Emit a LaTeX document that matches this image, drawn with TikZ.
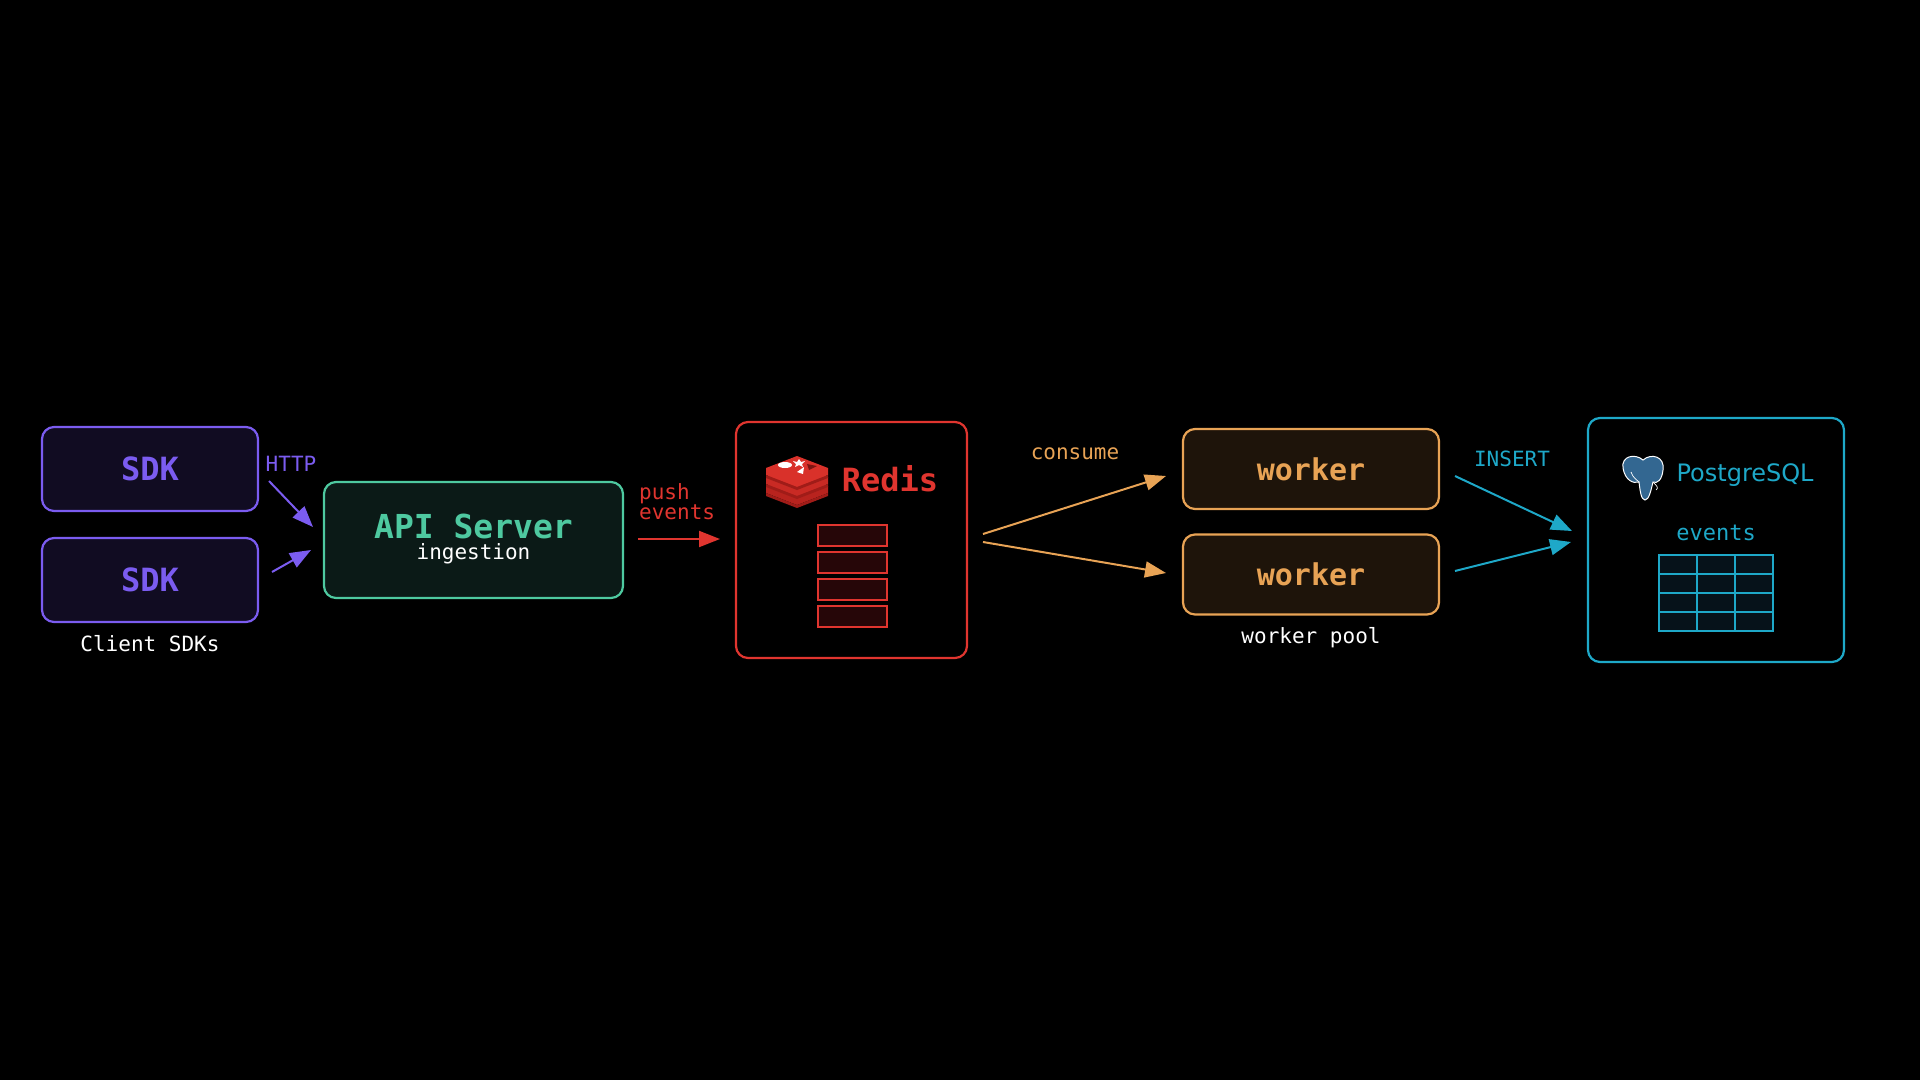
\documentclass[tikz,border=0pt]{standalone}
\usepackage{fontspec}
\setmainfont{DejaVu Sans Mono}
\newfontfamily\pgfont{DejaVu Sans}
\usetikzlibrary{arrows.meta}
\definecolor{sdk}{HTML}{7B5CF0}
\definecolor{sdkf}{HTML}{110C22}
\definecolor{api}{HTML}{4EC9A0}
\definecolor{apif}{HTML}{0B1A17}
\definecolor{red}{HTML}{E0352F}
\definecolor{redf}{HTML}{260608}
\definecolor{rA}{HTML}{B8231E}
\definecolor{rB}{HTML}{C92A24}
\definecolor{rC}{HTML}{D9312A}
\definecolor{rD}{HTML}{A01C18}
\definecolor{rE}{HTML}{7A1512}
\definecolor{wk}{HTML}{E8A355}
\definecolor{wkf}{HTML}{1E140A}
\definecolor{pg}{HTML}{1EA8C8}
\definecolor{pgf}{HTML}{06121A}
\definecolor{ele}{HTML}{336791}
\tikzset{
 box/.style={draw, line width=2.2pt, rounded corners=12pt},
 arr/.style={line width=2pt, -{Triangle[length=21pt,width=16pt]}},
 lbl/.style={font=\fontsize{21}{24}\selectfont},
}
\begin{document}
\begin{tikzpicture}[x=1pt,y=-1pt]
\fill[black] (0,0) rectangle (1920,1080);
% SDKs
\node[box, draw=sdk, fill=sdkf, minimum width=216pt, minimum height=84pt, text=sdk, font=\fontsize{32}{36}\selectfont\bfseries] (sdk1) at (150,469) {SDK};
\node[box, draw=sdk, fill=sdkf, minimum width=216pt, minimum height=84pt, text=sdk, font=\fontsize{32}{36}\selectfont\bfseries] (sdk2) at (150,580) {SDK};
\node[lbl, text=white] (csdk) at (150,644) {Client SDKs};
\node[lbl, text=sdk] (http) at (291,464) {HTTP};
% API
\node[box, draw=api, fill=apif, minimum width=299pt, minimum height=116pt] (api) at (473.5,540) {};
\node[text=api, font=\fontsize{33}{36}\selectfont\bfseries] (apit) at (473.5,526) {API Server};
\node[text=white, font=\fontsize{21}{24}\selectfont] (apis) at (473.5,554) {ingestion};
\coordinate (h1s) at (269,481); \coordinate (h1e) at (313,527);
\coordinate (h2s) at (272,572); \coordinate (h2e) at (311,550);
\draw[arr, sdk] (h1s) -- (h1e);
\draw[arr, sdk] (h2s) -- (h2e);
% push
\node[lbl, text=red, align=left, anchor=west, inner sep=0pt] (push) at (639,502) {push\\[-4pt]events};
\coordinate (p1) at (638,539); \coordinate (p2) at (720,539);
\draw[arr, red] (p1) -- (p2);
% Redis
\node[box, draw=red, minimum width=231pt, minimum height=236pt] (redis) at (851.5,540) {};
\node[text=red, font=\fontsize{32}{36}\selectfont\bfseries] (redist) at (890,479) {Redis};
\begin{scope}[shift={(797,478)}]
 \foreach \dy/\c in {18/rA,9/rB,0/rC}{
  \fill[\c] (-31,-10+\dy) -- (0,-22+\dy) -- (31,-10+\dy) -- (31,-3+\dy) -- (0,9+\dy) -- (-31,-3+\dy) -- cycle;
  \fill[rD] (-31,-3+\dy) -- (0,9+\dy) -- (31,-3+\dy) -- (31,0+\dy) -- (0,12+\dy) -- (-31,0+\dy) -- cycle;
 }
 \fill[white] (-12,-13) ellipse (7pt and 3pt);
 \fill[white] (2,-19) -- (4,-16) -- (8,-17) -- (5,-14) -- (6,-11) -- (2,-13) -- (-2,-11) -- (-1,-14) -- (-4,-17) -- (0,-16) -- cycle;
 \fill[white] (0,-6) -- (7,-11) -- (6,-4) -- cycle;
 \fill[rE] (10,-14) -- (20,-12) -- (12,-8) -- cycle;
\end{scope}
\foreach \y [count=\i] in {535.5,562.5,589.5,616.5}{
 \node[draw=red, fill=redf, line width=1.2pt, minimum width=69pt, minimum height=21pt, inner sep=0pt] (q\i) at (852.5,\y) {};
}
% consume
\node[lbl, text=wk] (cons) at (1075,454) {consume};
\node[box, draw=wk, fill=wkf, minimum width=256pt, minimum height=80pt, text=wk, font=\fontsize{30}{34}\selectfont\bfseries] (w1) at (1311,469) {worker};
\node[box, draw=wk, fill=wkf, minimum width=256pt, minimum height=80pt, text=wk, font=\fontsize{30}{34}\selectfont\bfseries] (w2) at (1311,574.5) {worker};
\node[lbl, text=white] (wpool) at (1311,638) {worker pool};
\coordinate (c1s) at (983,534); \coordinate (c1e) at (1166,476);
\coordinate (c2s) at (983,542); \coordinate (c2e) at (1166,573);
\draw[arr, wk] (c1s) -- (c1e);
\draw[arr, wk] (c2s) -- (c2e);
% insert
\node[lbl, text=pg] (ins) at (1512,459) {INSERT};
\coordinate (i1s) at (1455,476); \coordinate (i1e) at (1572,531);
\coordinate (i2s) at (1455,571); \coordinate (i2e) at (1571,542);
\draw[arr, pg] (i1s) -- (i1e);
\draw[arr, pg] (i2s) -- (i2e);
% Postgres
\node[box, draw=pg, minimum width=256pt, minimum height=244pt] (pgb) at (1716,540) {};
\node[text=pg, font=\pgfont\fontsize{24}{28}\selectfont, anchor=west] (pgt) at (1673,475) {PostgreSQL};
\begin{scope}[shift={(1643,478)}]
 \draw[white, line width=1pt, fill=ele] (-20,-10) .. controls (-22,-22) and (-8,-25) .. (0,-18) .. controls (8,-25) and (22,-22) .. (20,-8) .. controls (19,2) and (14,6) .. (10,4) .. controls (8,12) and (6,22) .. (2,22) .. controls (-2,22) and (-3,12) .. (-4,4) .. controls (-10,6) and (-18,2) .. (-20,-10) -- cycle;
 \draw[white, line width=0.7pt] (-12,-6) .. controls (-10,0) and (-6,2) .. (-4,4);
 \draw[white, line width=0.7pt] (10,4) .. controls (14,8) and (16,10) .. (13,12);
\end{scope}
\node[text=pg, font=\fontsize{22}{26}\selectfont] (evt) at (1716,533) {events};
\fill[pgf] (1659,555) rectangle (1773,631);
\foreach \x in {1697,1735} \draw[pg, line width=1.2pt] (\x,555) -- (\x,631);
\foreach \y in {574,593,612} \draw[pg, line width=1.2pt] (1659,\y) -- (1773,\y);
\draw[pg, line width=1.2pt] (1659,555) rectangle (1773,631);
\end{tikzpicture}
\end{document}
